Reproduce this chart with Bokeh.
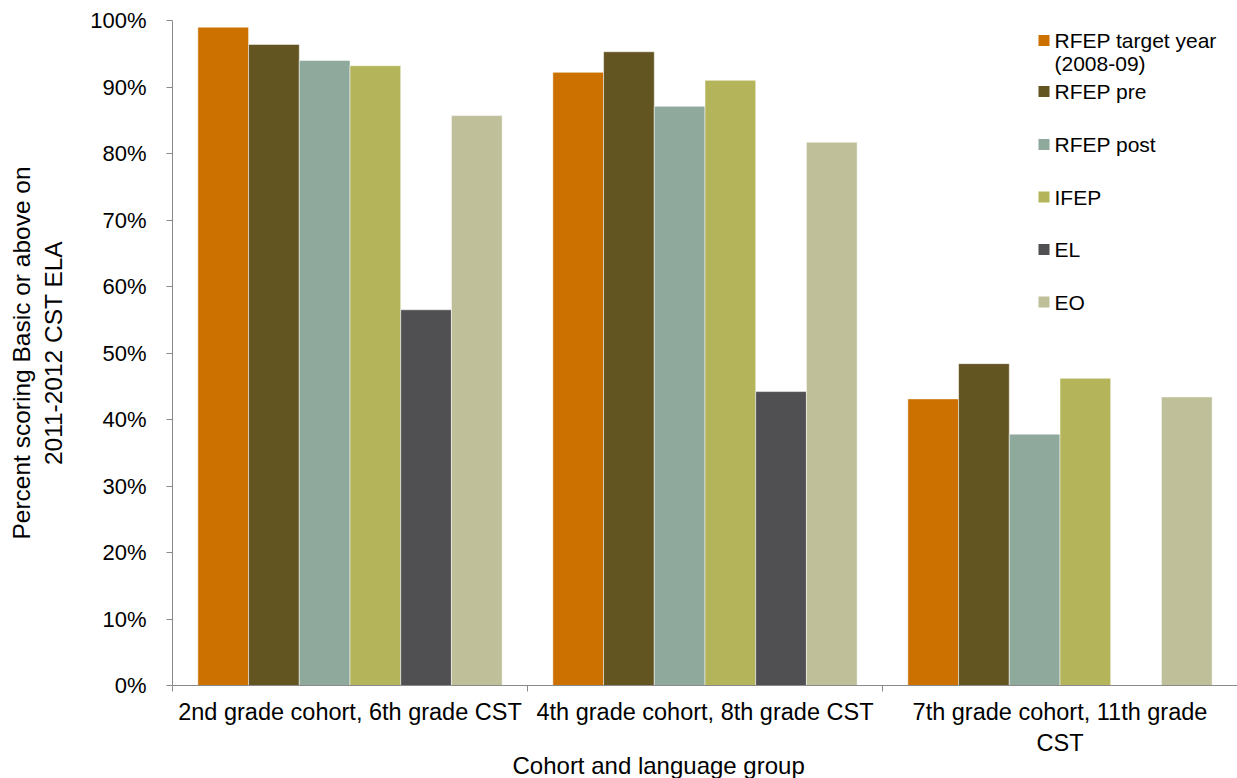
import math

from bokeh.plotting import figure
from bokeh.models import Range1d, FixedTicker, NumeralTickFormatter, Label, ColumnDataSource, Title
from bokeh.embed import file_html
from bokeh.resources import INLINE

# Cohort groups along the x axis (a newline marks a wrapped label)
groups = [
    "2nd grade cohort, 6th grade CST",
    "4th grade cohort, 8th grade CST",
    "7th grade cohort, 11th grade\nCST",
]

# Language groups (series) and their share scoring Basic or above
series_names = ["RFEP target year\n(2008-09)", "RFEP pre", "RFEP post", "IFEP", "EL", "EO"]
rfep_target = [0.990, 0.922, 0.431]
rfep_pre = [0.964, 0.953, 0.484]
rfep_post = [0.940, 0.871, 0.378]
ifep = [0.932, 0.910, 0.462]
el = [0.565, 0.442, None]
eo = [0.857, 0.817, 0.434]

y_ticks = [i / 10 for i in range(11)]

series_values = [rfep_target, rfep_pre, rfep_post, ifep, el, eo]
colors = ["#CC7000", "#635522", "#8FA99C", "#B4B55A", "#505052", "#BFBF9A"]

FONT = "Liberation Sans"
W, H = 1237, 778
LEFT, TOP, BOTTOM = 172, 20, 93
FRAME_W = W - LEFT
FRAME_H = H - TOP - BOTTOM
N_GROUPS = len(groups)
N_SERIES = len(series_names)
BAR_W = 1 / (N_SERIES + 1)


def dx(px):
    """Canvas pixel x -> data x."""
    return (px - LEFT) / FRAME_W * N_GROUPS


def dy(py):
    """Canvas pixel y -> data y."""
    return (H - BOTTOM - py) / FRAME_H


p = figure(
    width=W, height=H,
    x_range=Range1d(0, N_GROUPS), y_range=Range1d(0, 1),
    output_backend="svg", toolbar_location=None,
    min_border_left=LEFT, min_border_right=0,
    min_border_top=TOP, min_border_bottom=BOTTOM,
)
p.outline_line_color = None
p.xgrid.visible = False
p.ygrid.visible = False
p.background_fill_color = "white"
p.border_fill_color = "white"

# Grouped bars
for s, (vals, col) in enumerate(zip(series_values, colors)):
    xs, tops = [], []
    for g, v in enumerate(vals):
        if v is None:
            continue
        xs.append(g + (s + 1) * BAR_W)
        tops.append(v)
    src = ColumnDataSource(dict(x=xs, top=tops))
    p.vbar(x="x", top="top", bottom=0, width=BAR_W, source=src,
           fill_color=col, line_color="white", line_alpha=0.5, line_width=1)

AXIS_GRAY = "#8A8A8A"

# x axis: group names at the group centres, tick marks at the boundaries
xa = p.xaxis[0]
centres = [g + 0.5 for g in range(N_GROUPS)]
xa.ticker = FixedTicker(ticks=centres, minor_ticks=list(range(N_GROUPS + 1)))
xa.major_label_overrides = {c: name for c, name in zip(centres, groups)}
xa.major_label_text_font = FONT
xa.major_label_text_font_size = "23.5px"
xa.major_label_text_color = "black"
xa.major_label_standoff = 7
xa.major_tick_in = 0
xa.major_tick_out = 0
xa.major_tick_line_color = None
xa.minor_tick_in = 0
xa.minor_tick_out = 6
xa.minor_tick_line_color = AXIS_GRAY
xa.axis_line_color = AXIS_GRAY

p.add_layout(Title(
    text="Cohort and language group", align="left", offset=340, standoff=-18,
    text_font=FONT, text_font_size="24px", text_font_style="normal", text_color="black",
), "below")

ya = p.yaxis[0]
ya.ticker = FixedTicker(ticks=y_ticks)
ya.formatter = NumeralTickFormatter(format="0%")
ya.major_label_text_font = FONT
ya.major_label_text_font_size = "22px"
ya.major_label_text_color = "black"
ya.major_label_standoff = 20
ya.major_tick_in = 0
ya.major_tick_out = 6
ya.minor_tick_line_color = None
ya.axis_line_color = AXIS_GRAY
ya.major_tick_line_color = AXIS_GRAY
ya.axis_label = "Percent scoring Basic or above on\n2011-2012 CST ELA"
ya.axis_label_text_font = FONT
ya.axis_label_text_font_size = "24.5px"
ya.axis_label_text_font_style = "normal"
ya.axis_label_text_color = "black"
ya.axis_label_standoff = 20

# Legend, drawn item by item inside the plot area
legend_rows = [40, 91, 144, 196.5, 249, 301.5]
for name, col, row in zip(series_names, colors, legend_rows):
    p.scatter(x=[dx(1043.5)], y=[dy(row)], marker="square", size=11,
              fill_color=col, line_color=None)
    for k, line in enumerate(name.split("\n")):
        p.add_layout(Label(
            x=dx(1054), y=dy(row + 23 * k), text=line,
            text_align="left", text_baseline="middle",
            text_font=FONT, text_font_size="21px", text_color="black",
        ))

open("out.html", "w").write(file_html(p, INLINE))
